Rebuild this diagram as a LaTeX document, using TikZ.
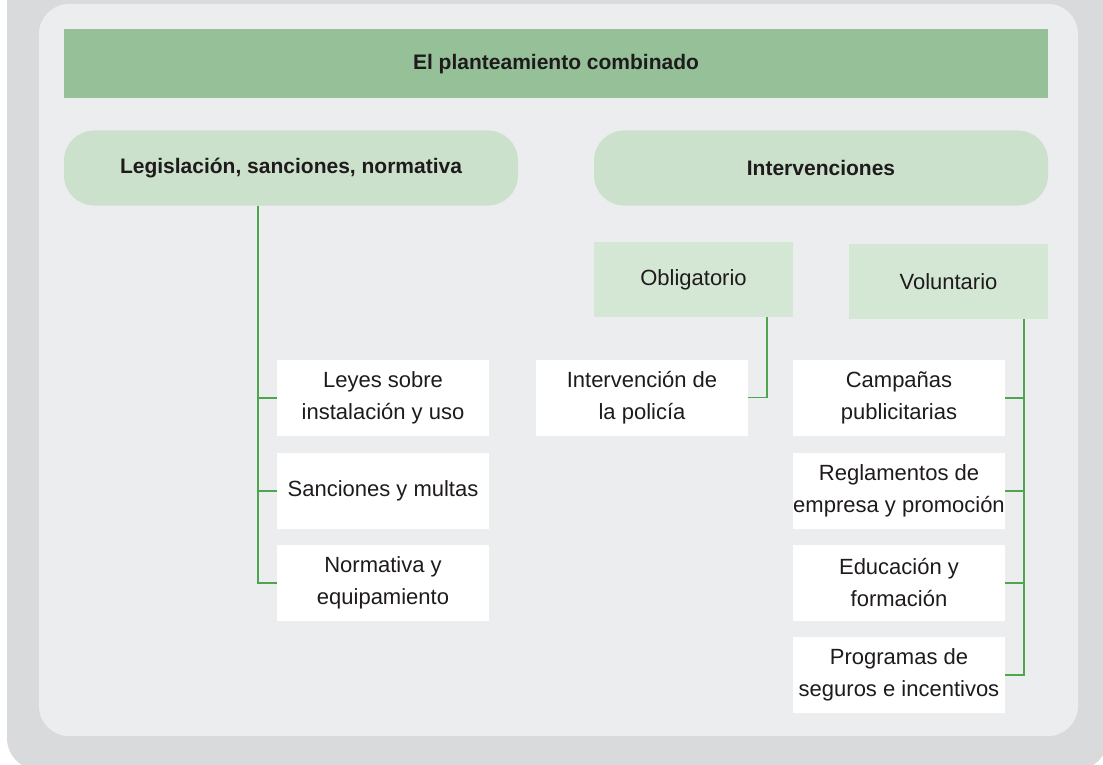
\documentclass[tikz,border=0pt]{standalone}
\usepackage{fontspec}
\setmainfont{Liberation Sans}
\usepackage{xcolor}
\usepackage{tikz}
\usetikzlibrary{positioning, calc}

\definecolor{outergrey}{HTML}{D9DADC}
\definecolor{panelgrey}{HTML}{ECEDEF}
\definecolor{headgreen}{HTML}{95C098}
\definecolor{midgreen}{HTML}{CBE1CB}
\definecolor{palegreen}{HTML}{D4E6D4}
\definecolor{linegreen}{HTML}{4FA54F}
\definecolor{inkgrey}{HTML}{1F1B1C}

\begin{document}
\begin{tikzpicture}[
		x=1pt, y=-1pt,
		text=inkgrey,
		font=\fontsize{22}{32}\selectfont,
		head/.style={fill=headgreen, minimum width=984pt, minimum height=69pt, inner sep=0pt, font=\fontsize{21}{28}\selectfont\bfseries},
		branch/.style={fill=midgreen, rounded corners=30pt, minimum width=454pt, minimum height=75pt, inner sep=0pt, font=\fontsize{21}{28}\selectfont\bfseries},
		kind/.style={fill=palegreen, minimum width=199pt, minimum height=75pt, inner sep=0pt},
		item/.style={fill=white, minimum width=212pt, minimum height=76pt, inner sep=0pt, align=center},
		conn/.style={draw=linegreen, line width=1.4pt}
		]
		
		\useasboundingbox (0,0) rectangle (1103,765);
		
		% Background
		\fill[outergrey, rounded corners=32pt] (7,-60) rectangle (1108,770);
		\fill[panelgrey, rounded corners=30pt] (39,4) rectangle (1078,736);
		
		% Title
		\node[head] (title) at (556,64) {El planteamiento combinado};
		
		% Main branches
		\node[branch] (legis) at (291,168) {Legislación, sanciones, normativa};
		\node[branch] (interv) at (821,168) {Intervenciones};
		
		% Kinds of intervention
		\node[kind] (oblig) at (693.5,279.5) {Obligatorio};
		\node[kind] (volun) at (948.5,281.5) {Voluntario};
		
		% Legislation items
		\node[item] (leyes) at (383,398) {Leyes sobre\\instalación y uso};
		\node[item] (sanc) at (383,491) {Sanciones y multas};
		\node[item] (norm) at (383,583) {Normativa y\\equipamiento};
		
		% Compulsory item
		\node[item] (policia) at (642,397.5) {Intervención de\\la policía};
		
		% Voluntary items
		\node[item] (campanas) at (899,398) {Campañas\\publicitarias};
		\node[item] (reglam) at (899,491) {Reglamentos de\\empresa y promoción};
		\node[item] (educ) at (899,583) {Educación y\\formación};
		\node[item] (seguros) at (899,675) {Programas de\\seguros e incentivos};
		
		% Trunks
		\coordinate (trunkL) at (legis.south -| 258,0);
		\coordinate (trunkO) at (oblig.south -| 767,0);
		\coordinate (trunkV) at (volun.south -| 1024,0);
		
		% Connectors
		\foreach \n in {leyes, sanc, norm}
		\draw[conn] (trunkL) |- (\n.west);
		\draw[conn] (trunkO) |- (policia.east);
		\foreach \n in {campanas, reglam, educ, seguros}
		\draw[conn] (trunkV) |- (\n.east);
		
	\end{tikzpicture}
\end{document}
